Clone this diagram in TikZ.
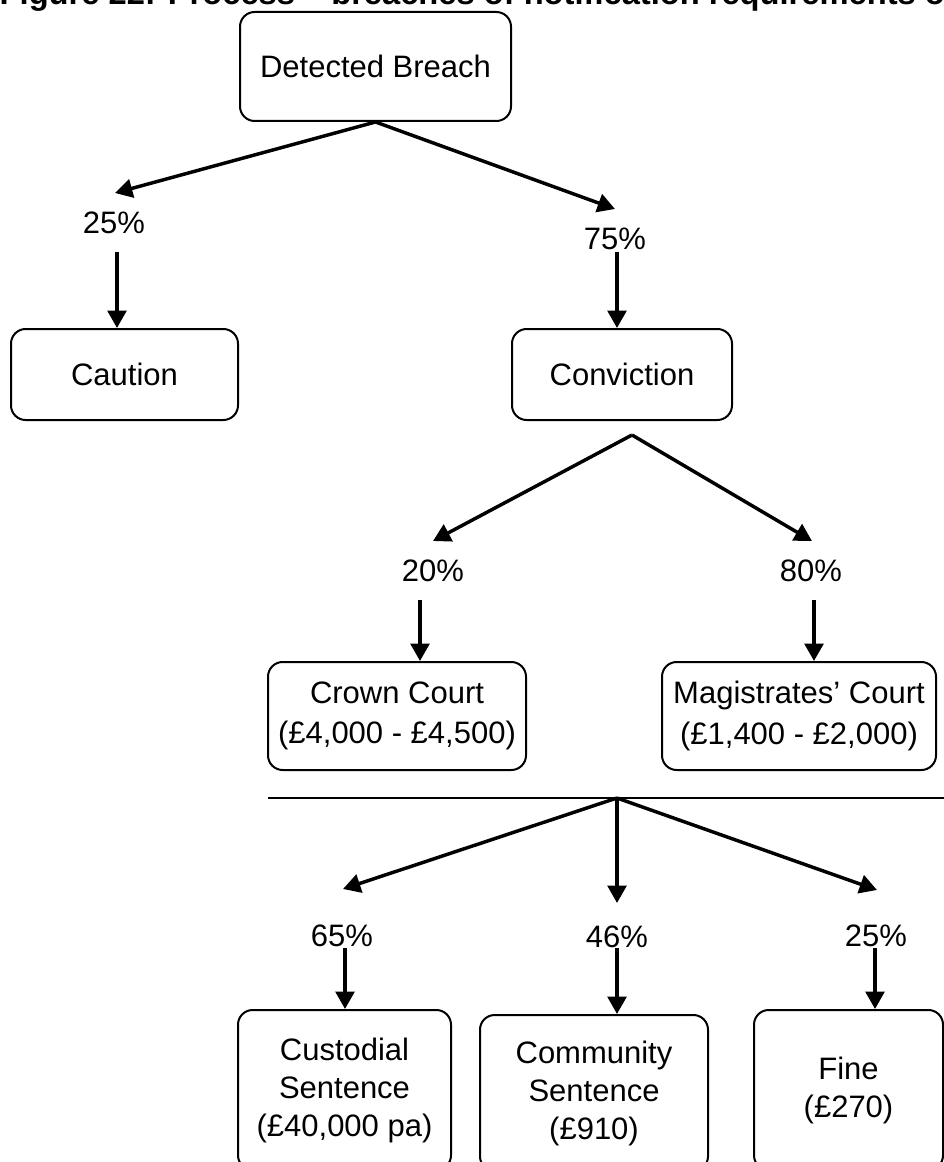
\documentclass[tikz,border=0pt]{standalone}
\usepackage{fontspec}
\setmainfont{Liberation Sans}
\usetikzlibrary{arrows.meta}

\begin{document}
\begin{tikzpicture}[x=0.75pt, y=-0.75pt,
  every node/.style={font=\fontsize{23.25pt}{28.5pt}\selectfont},
  box/.style={draw, line width=1.5pt, rounded corners=11pt, align=center, inner sep=2pt},
  arr/.style={-{Triangle[length=13pt, width=14pt]}, line width=2.6pt}]

\useasboundingbox (0,0) rectangle (944,1162);
\clip (0,0) rectangle (944,1162);

\node[anchor=base west, font=\bfseries\fontsize{24.5pt}{28pt}\selectfont] (title) at (-5,5) {Figure 22: Process – breaches of notification requirements of};

\node[box, minimum width=203.25pt, minimum height=81.75pt] (breach) at (375.5,66.5) {Detected Breach};
\node[box, minimum width=170.25pt, minimum height=68.25pt] (caution) at (124.5,374.5) {Caution};
\node[box, minimum width=165pt, minimum height=68.25pt] (conviction) at (622,374.5) {Conviction};
\node[box, minimum width=193.5pt, minimum height=81pt] (crown) at (397,716) {Crown Court\\[2pt](£4,000 - £4,500)};
\node[box, minimum width=205.5pt, minimum height=81pt] (magistrates) at (799,716) {Magistrates’ Court\\[2pt](£1,400 - £2,000)};
\node[box, minimum width=159.75pt, minimum height=120pt] (custodial) at (344.5,1090) {Custodial\\Sentence\\(£40,000 pa)};
\node[box, minimum width=171pt, minimum height=117pt] (community) at (594,1093) {Community\\Sentence\\(£910)};
\node[box, minimum width=141.75pt, minimum height=120pt] (fine) at (848.5,1090) {Fine\\(£270)};

\node (p25a) at (114,222.5) {25\%};
\node (p75) at (615,238.5) {75\%};
\node (p20) at (433,571) {20\%};
\node (p80) at (811,571) {80\%};
\node (p65) at (342,936) {65\%};
\node (p46) at (617,937) {46\%};
\node (p25b) at (876,936) {25\%};

\coordinate (t25a) at (115,193);
\coordinate (t75) at (615,209);
\coordinate (s25a) at (117,252);
\coordinate (s75) at (617,252);
\coordinate (fork) at (632,435);
\coordinate (t20) at (433,541);
\coordinate (t80) at (812,541);
\coordinate (s20) at (420,600);
\coordinate (s80) at (814,600);
\coordinate (barL) at (268,798);
\coordinate (barR) at (960,798);
\coordinate (fork2) at (617,798);
\coordinate (t65) at (343,889);
\coordinate (t46) at (617,903);
\coordinate (t25b) at (877,890);
\coordinate (s65) at (345,948);
\coordinate (s46) at (617,948);
\coordinate (s25b) at (875,948);

\draw[arr] (breach.south) -- (t25a);
\draw[arr] (breach.south) -- (t75);
\draw[arr] (s25a) -- (s25a |- caution.north);
\draw[arr] (s75) -- (s75 |- conviction.north);

\draw[arr] (fork) -- (t20);
\draw[arr] (fork) -- (t80);
\draw[arr] (s20) -- (s20 |- crown.north);
\draw[arr] (s80) -- (s80 |- magistrates.north);

\draw[line width=1.5pt] (barL) -- (barR);
\draw[arr] (fork2) -- (t65);
\draw[arr] (fork2) -- (t46);
\draw[arr] (fork2) -- (t25b);
\draw[arr] (s65) -- (s65 |- custodial.north);
\draw[arr] (s46) -- (s46 |- community.north);
\draw[arr] (s25b) -- (s25b |- fine.north);
\end{tikzpicture}
\end{document}
